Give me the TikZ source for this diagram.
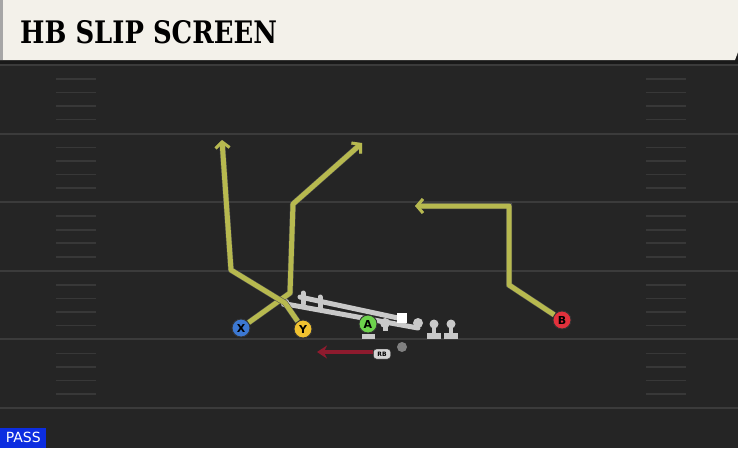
\documentclass[tikz,border=0pt]{standalone}
\usepackage{fontspec}
\usetikzlibrary{arrows.meta}
\newfontfamily\titlefont{DejaVu Serif}
\newfontfamily\labelfont{DejaVu Sans}

\definecolor{fieldbg}{HTML}{252525}
\definecolor{yardline}{HTML}{3B3B3B}
\definecolor{hashline}{HTML}{383838}
\definecolor{headbg}{HTML}{F3F1EA}
\definecolor{routecol}{HTML}{B7B94F}
\definecolor{blockcol}{HTML}{C9C9C9}
\definecolor{motioncol}{HTML}{8E1B2E}
\definecolor{xblue}{HTML}{3C78D2}
\definecolor{yyellow}{HTML}{F1C230}
\definecolor{agreen}{HTML}{6DD24C}
\definecolor{bred}{HTML}{E2313C}
\definecolor{passblue}{HTML}{0C2DE0}

\tikzset{
  player/.style={circle, draw=black!80, line width=0.9pt, inner sep=0pt,
    minimum size=18pt, font=\labelfont\bfseries\fontsize{11}{11}\selectfont},
  route/.style={draw=routecol, line width=5pt, line join=round,
    preaction={draw=black!70, line width=6pt},
    -{Straight Barb[length=6pt,width=14pt,line width=3pt]}},
  block/.style={draw=blockcol, line width=5pt, line cap=round},
}

\begin{document}
\begin{tikzpicture}[x=1pt,y=-1pt]
  \useasboundingbox (0,0) rectangle (738,448);

  % Drawing field
  \fill [fieldbg] (0,0) rectangle (738,448);
  \foreach \k in {0,...,5} {
    \draw [yardline, line width=2pt] (0,65+68.6*\k) -- (738,65+68.6*\k);
  }
  \foreach \k in {0,...,4} {
    \foreach \d in {14,27.5,41,54.5} {
      \draw [hashline, line width=1.6pt] (56,65+68.6*\k+\d) -- (96,65+68.6*\k+\d);
      \draw [hashline, line width=1.6pt] (646,65+68.6*\k+\d) -- (686,65+68.6*\k+\d);
    }
  }

  % Drawing header
  \fill [black!90] (0,56) rectangle (738,64);
  \fill [headbg] (0,0) -- (738,0) -- (738,52) -- (735,60) -- (0,60) -- cycle;
  \fill [black!35] (0,0) rectangle (3,60);
  \node [anchor=west, inner sep=0pt] (title) at (20,32)
    {\scalebox{0.835}[1]{\titlefont\bfseries\fontsize{31}{31}\selectfont HB SLIP SCREEN}};

  % Drawing blocking shape
  \draw [block] (286,304) -- (418,328);
  \draw [block] (300,297) -- (398,318);
  \draw [block] (303,293) -- (303,304);
  \draw [block] (320,297) -- (320,308);
  \fill [blockcol] (285,303) circle (4.5);
  \fill [blockcol] (418,323) circle (5);
  \fill [blockcol] (385,323) circle (5);
  \draw [block, line cap=butt] (385,323) -- (385,331);
  \fill [white] (397,313) rectangle (407,323);
  \foreach \x in {434,451} {
    \fill [blockcol] (\x,324) circle (4.5);
    \draw [blockcol, line width=4pt] (\x,324) -- (\x,335);
    \fill [blockcol] (\x-7,333) rectangle (\x+7,339);
  }
  \fill [blockcol] (362,334) rectangle (375,339);
  \fill [black!50] (402,347) circle (5);

  % Marking players
  \node [player, fill=xblue]   (X) at (241,328) {X};
  \node [player, fill=yyellow] (Y) at (303,329) {Y};
  \node [player, fill=agreen]  (A) at (368,324) {A};
  \node [player, fill=bred]    (B) at (562,320) {B};
  \node [draw=black!80, fill=blockcol!80, rounded corners=3pt, inner sep=1pt,
    minimum width=17pt, minimum height=10pt,
    font=\labelfont\bfseries\fontsize{6}{6}\selectfont] (RB) at (382,354) {RB};

  % Route turn points
  \coordinate (x1) at (290,293);
  \coordinate (x2) at (293,204);
  \coordinate (x3) at (362,143);
  \coordinate (y1) at (285,303);
  \coordinate (y2) at (231,270);
  \coordinate (y3) at (222,140);
  \coordinate (b1) at (509,285);
  \coordinate (b2) at (509,206);
  \coordinate (b3) at (415,206);
  \coordinate (rb1) at (317,352);

  % Drawing routes
  \draw [route] (X) -- (x1) -- (x2) -- (x3);
  \draw [route] (Y) -- (y1) -- (y2) -- (y3);
  \draw [route] (B) -- (b1) -- (b2) -- (b3);
  \draw [motioncol, line width=4.5pt, -{Stealth[length=10pt,width=13pt]}]
    (RB.west |- rb1) -- (rb1);

  % Marking play type
  \node [fill=passblue, text=white, anchor=south west, inner sep=0pt,
    minimum width=46pt, minimum height=20pt,
    font=\labelfont\fontsize{14}{14}\selectfont] (pass) at (0,448) {PASS};
\end{tikzpicture}
\end{document}
